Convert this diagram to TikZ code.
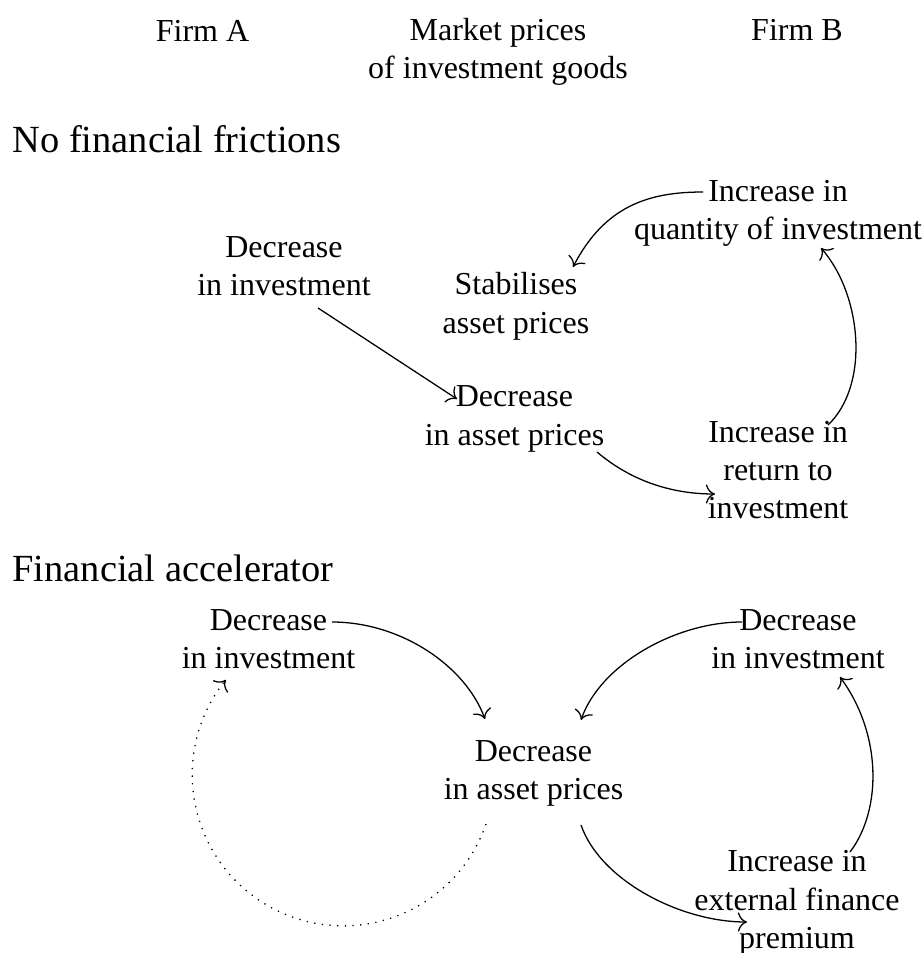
\documentclass[tikz,border=0pt]{standalone}
\usepackage{fontspec}
\setmainfont{Liberation Serif}
\usetikzlibrary{arrows.meta}
\begin{document}
\begin{tikzpicture}[x=0.3125pt,y=-0.3125pt,
  lbl/.style={align=center,font=\fontsize{10}{12}\selectfont},
  ttl/.style={anchor=base west,inner sep=0pt,font=\fontsize{12}{14}\selectfont},
  conn/.style={-{To[scale=1.15]},line width=0.4pt}]
\useasboundingbox (0,0) rectangle (924,953);
% header
\node[lbl] (firmA) at (202.5,30.5) {Firm A};
\node[lbl] (mkt) at (498,52) {Market prices\\of investment goods};
\node[lbl] (firmB) at (797,30) {Firm B};
% titles
\node[ttl] (t1) at (12,152) {No financial frictions};
\node[ttl] (t2) at (12,581) {Financial accelerator};
% section 1
\node[lbl] (A1) at (284,266) {Decrease\\in investment};
\node[lbl] (S) at (516,306.5) {Stabilises\\asset prices};
\node[lbl] (Q) at (778,213.5) {Increase in\\quantity of investment};
\node[lbl] (D1) at (514.5,419) {Decrease\\in asset prices};
\node[lbl] (R) at (778,470) {Increase in\\return to\\investment};
% section 2
\node[lbl] (A2) at (268.5,639) {Decrease\\in investment};
\node[lbl] (D2) at (533.5,773.5) {Decrease\\in asset prices};
\node[lbl] (B2) at (798,639) {Decrease\\in investment};
\node[lbl] (E) at (797,903) {Increase in\\external finance\\premium};
% connectors section 1
\draw[conn] ([shift={(34,42)}]A1.center) -- ([shift={(-57.5,-20)}]D1.center);
\draw[conn] ([shift={(82.5,33)}]D1.center) .. controls +(33,28) and +(-45,0) .. ([shift={(-63,24)}]R.center);
\draw[conn] ([shift={(50,-45)}]R.center) .. controls +(42,-40) and +(41,47) .. ([shift={(43,34.5)}]Q.center);
\draw[conn] ([shift={(-75,-21.5)}]Q.center) .. controls +(-53,0) and +(32,-62) .. ([shift={(57,-39.5)}]S.center);
% connectors section 2
\draw[conn] ([shift={(63.5,-17)}]A2.center) .. controls +(68,0) and +(-20,-54) .. ([shift={(-48.5,-54.5)}]D2.center);
\draw[conn] ([shift={(-56,-17)}]B2.center) .. controls +(-67,0) and +(19,-55) .. ([shift={(47.5,-53.5)}]D2.center);
\draw[conn] ([shift={(47.5,51.5)}]D2.center) .. controls +(19,55) and +(-67,0) .. ([shift={(-50,19)}]E.center);
\draw[conn] ([shift={(53,-51)}]E.center) .. controls +(32,-42) and +(42,57) .. ([shift={(42,38)}]B2.center);
\draw[conn,dotted] ([shift={(-47.5,50.5)}]D2.center) arc[start angle=19,end angle=219,radius=151];
\end{tikzpicture}
\end{document}
